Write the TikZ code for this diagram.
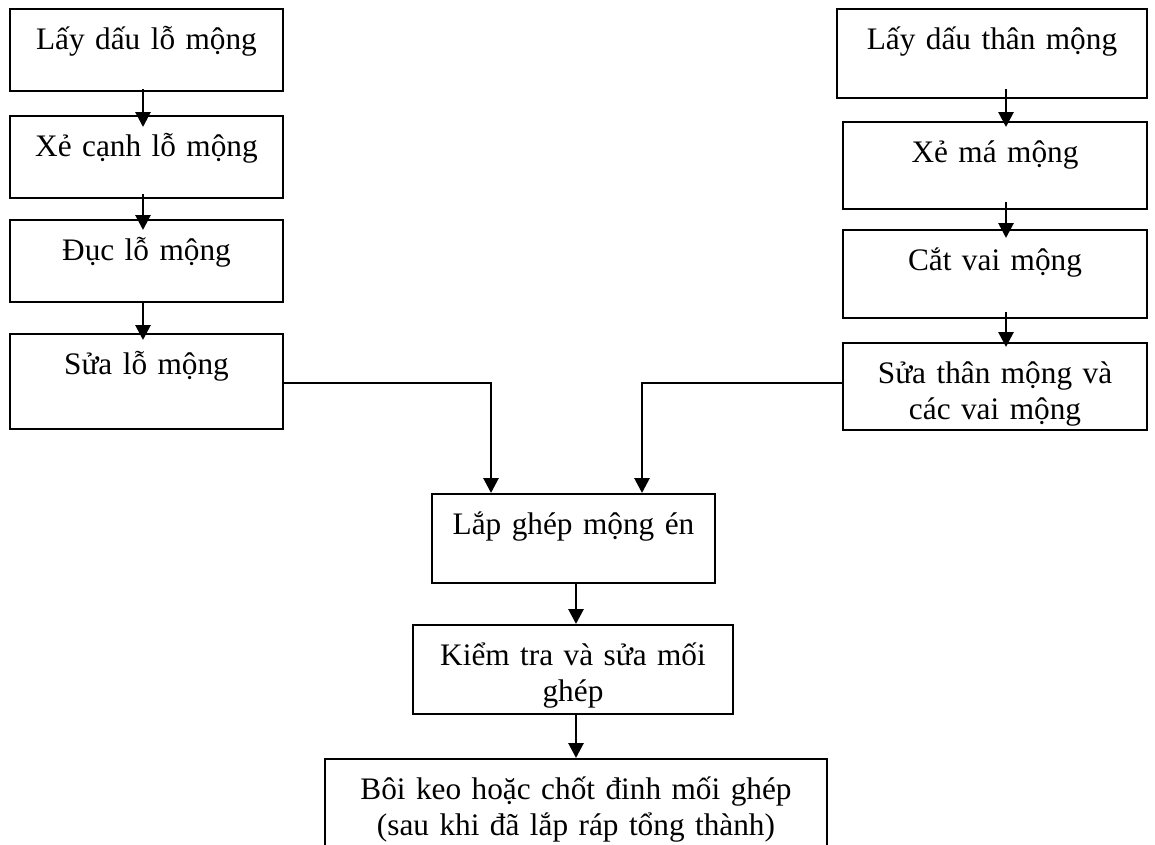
\documentclass[tikz,border=0pt]{standalone}
\usepackage{fontspec}
\setmainfont{Liberation Serif}
\usepackage{tikz}
\usetikzlibrary{arrows.meta}
\tikzset{stepbox/.style 2 args={draw,line width=2pt,inner sep=0pt,anchor=north,align=center,
  text width=#1pt,text height=40pt,text depth=#2pt}}
\tikzset{flow/.style={line width=2.8pt,-{Triangle[length=15pt,width=15pt]}}}

\begin{document}
\begin{tikzpicture}[x=1pt,y=-1pt,font=\fontsize{31.3}{36}\selectfont]%
        \useasboundingbox (0,0) rectangle (1155,844);%%
        \clip (0,0) rectangle (1155,844);%%
        % lo mong
        \node[stepbox={273}{42}] (l1) at (146.5,8) {Lấy dấu lỗ mộng}; %%
        \node[stepbox={273}{42}] (l2) at (146.5,115) {Xẻ cạnh lỗ mộng}; %%
        \node[stepbox={273}{42}] (l3) at (146.5,219) {Đục lỗ mộng}; %%
        \node[stepbox={273}{55}] (l4) at (146.5,333) {Sửa lỗ mộng}; %%
        % than mong
        \node[stepbox={310}{49}] (r1) at (992,8) {Lấy dấu thân mộng}; %%
        \node[stepbox={304}{47}] (r2) at (995,121) {Xẻ má mộng}; %%
        \node[stepbox={304}{48}] (r3) at (995,229) {Cắt vai mộng}; %%
        \node[stepbox={304}{47}] (r4) at (995,342) {Sửa thân mộng và\\các vai mộng}; %%
        % lap ghep
        \node[stepbox={283}{49}] (m) at (573.5,493) {Lắp ghép mộng én}; %%
        \node[stepbox={320}{49}] (k) at (573,624) {Kiểm tra và sửa mối\\ghép}; %%
        \node[stepbox={502}{70}] (b) at (576,758) {Bôi keo hoặc chốt đinh mối ghép\\(sau khi đã lắp ráp tổng thành)}; %%
        \draw[flow,shorten <=-3pt,shorten >=-12pt] ([xshift=-3.5pt]l1.south)--([xshift=-3.5pt]l2.north); %%
        \draw[flow,shorten <=-5pt,shorten >=-11pt] ([xshift=-3.5pt]l2.south)--([xshift=-3.5pt]l3.north); %%
        \draw[flow,shorten <=-1pt,shorten >=-7pt] ([xshift=-3.5pt]l3.south)--([xshift=-3.5pt]l4.north); %%
        \draw[flow,shorten <=-10pt,shorten >=-6pt] ([xshift=14pt]r1.south)--([xshift=11pt]r2.north); %%
        \draw[flow,shorten <=-8pt,shorten >=-9pt] ([xshift=11pt]r2.south)--([xshift=11pt]r3.north); %%
        \draw[flow,shorten <=-7pt,shorten >=-5pt] ([xshift=11pt]r3.south)--([xshift=11pt]r4.north); %%
        \draw[flow] ([yshift=-1.5pt]l4.east) -| ([xshift=-82.5pt]m.north); %%
        \draw[flow] ([yshift=3.5pt]r4.west) -| ([xshift=68.5pt]m.north); %%
        \draw[flow] ([xshift=2.5pt]m.south)--([xshift=3pt]k.north); %%
        \draw[flow] ([xshift=3pt]k.south)--(b.north); %%
\end{tikzpicture}
\end{document}
